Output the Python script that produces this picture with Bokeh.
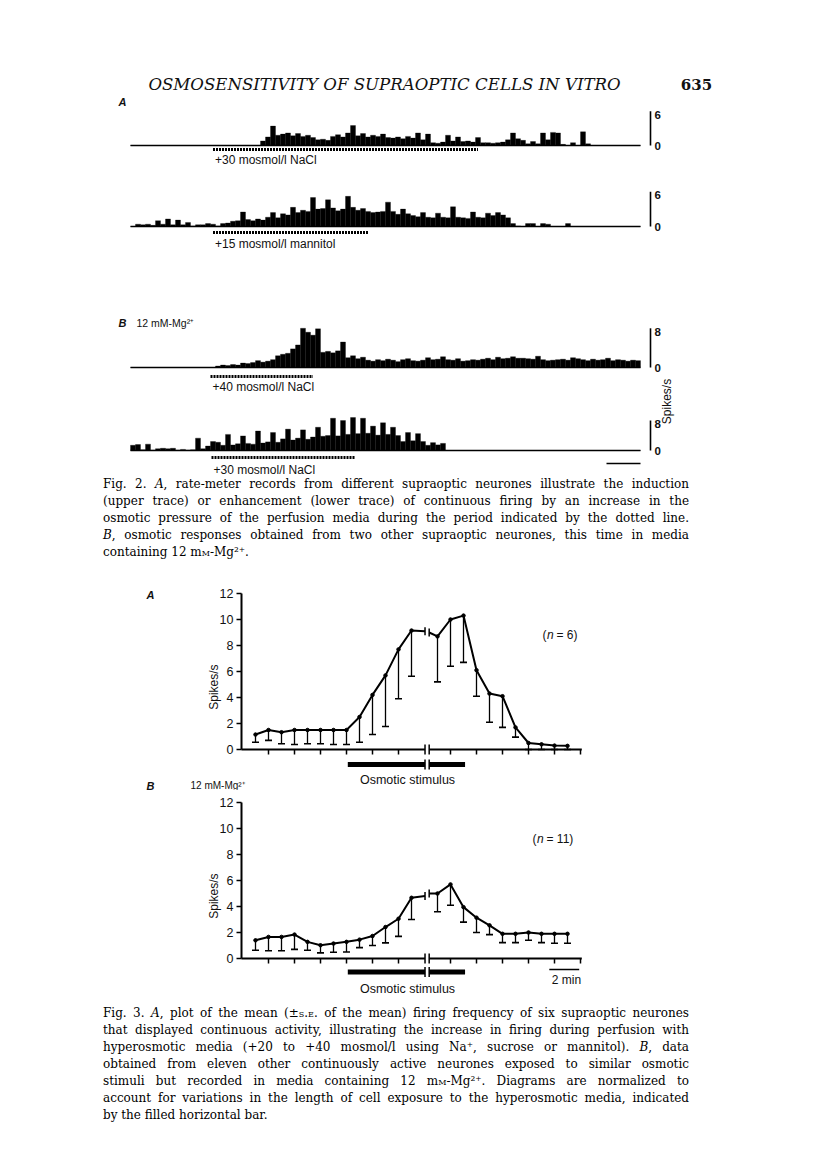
import math
import numpy as np
from bokeh.plotting import figure
from bokeh.models import Range1d, Div
from bokeh.layouts import column
from bokeh.embed import file_html
from bokeh.resources import INLINE
from bokeh.core.properties import value

SANS = "Liberation Sans"
SERIF = "DejaVu Serif"
INK = "#111111"
W = 816

# ------------------------------------------------------------------
# DATA
# Fig. 2 rate-meter records, spikes/s in consecutive time bins
# ------------------------------------------------------------------
trace_a_nacl30 = [0, 0, 0, 0, 0, 0, 0, 0, 0, 0, 0, 0, 0, 0, 0, 0, 0, 0, 0, 0,
                  0, 0, 0, 0, 0, 0, 0.8, 1.5, 3.4, 1.8, 2.0, 2.2, 1.7, 2.1, 1.6, 1.8,
                  1.4, 1.0, 1.1, 0.9, 1.6, 1.9, 1.5, 2.2, 3.5, 1.7, 2.1, 1.5, 1.8, 1.6,
                  2.0, 1.4, 1.3, 1.5, 1.2, 1.6, 1.3, 2.2, 1.0, 2.0, 0.5, 0.4, 0.6, 1.8,
                  0.8, 1.5, 0.7, 0.8, 0.6, 1.4, 0.5, 0.5, 0.4, 0.5, 0.6, 1.0, 2.2, 1.2,
                  0.9, 0.3, 0.7, 0.3, 2.2, 1.0, 2.3, 2.2, 0.2, 0, 0.5, 0, 2.4, 0.3,
                  0, 0, 0, 0, 0, 0, 0, 0, 0, 0]
trace_a_mannitol15 = [0, 0.4, 0.3, 0.4, 0.2, 1.0, 0.4, 1.3, 0.3, 1.1, 0.3,
                      0.7, 0.1, 0.3, 0.3, 0.5, 0.4, 0.1, 0.5, 0.6, 0.9,
                      1.0, 2.5, 1.2, 1.0, 1.3, 1.1, 1.6, 2.4, 1.5, 2.2,
                      2.0, 3.3, 2.4, 2.8, 2.6, 5.0, 3.0, 3.1, 4.6, 3.2,
                      2.7, 3.0, 5.2, 3.3, 2.8, 3.1, 2.6, 2.4, 2.5, 2.6,
                      4.2, 2.6, 2.1, 3.0, 2.2, 1.9, 1.7, 2.4, 1.6, 1.5,
                      2.3, 1.6, 1.5, 3.4, 1.6, 1.5, 1.4, 2.5, 1.6, 1.5,
                      2.3, 1.9, 2.4, 2.0, 1.5, 0.5, 0.1, 0, 0.5, 0.5,
                      0, 0.5, 0.4, 0, 0, 0, 0.5,
                      0, 0, 0, 0, 0, 0, 0, 0, 0, 0, 0, 0, 0, 0]
trace_b_nacl40 = [0, 0, 0, 0, 0, 0, 0, 0, 0, 0, 0, 0, 0, 0, 0, 0, 0,
                  0.3, 0.5, 0.4, 0.6, 0.5, 0.9,
                  0.8, 1.0, 1.4, 1.1, 1.3, 1.6,
                  2.4, 2.7, 2.9, 3.8, 4.6,
                  8.0, 7.2, 6.6, 7.9,
                  3.1, 3.3, 3.0, 3.4, 5.2,
                  2.0, 2.4, 1.8, 2.1, 1.5,
                  1.3, 1.6, 1.4, 1.7, 1.5, 1.2, 1.6, 1.8, 1.4, 1.3,
                  1.5, 2.0, 1.6, 1.7, 2.2, 1.6, 1.5, 1.8, 1.3, 1.4,
                  1.6, 1.5, 1.7, 1.9, 1.6, 2.1, 1.8, 1.9, 2.2, 1.9,
                  1.9, 1.8, 1.7, 2.3, 1.6, 1.4, 1.5, 1.6, 1.7, 1.5,
                  2.0, 1.8, 1.6, 1.4, 1.7, 1.5, 1.6, 1.9, 1.4, 1.6,
                  1.5, 1.3, 1.5, 1.4]
trace_b_nacl30 = [1.4, 1.6, 0.2, 1.7, 0.1, 0.5, 0.6, 0.5, 0.6, 0.1,
                  0.3, 0.1, 0.2, 3.3, 0.5, 1.2, 2.4, 2.2, 1.4, 4.3,
                  1.5, 1.8, 3.9, 1.9, 1.7, 5.2, 2.0, 2.3, 4.8, 2.2,
                  3.1, 5.7, 2.8, 3.3, 5.5, 3.0, 3.6, 6.2, 3.8, 4.0,
                  8.6, 3.9, 8.0, 4.3, 8.8, 4.5, 8.6, 4.6, 6.5, 4.1,
                  7.4, 4.3, 6.2, 4.0, 2.4, 4.8, 2.6, 4.5, 2.4, 1.4,
                  2.1, 1.5, 1.9,
                  0, 0, 0, 0, 0, 0, 0, 0, 0, 0, 0, 0, 0, 0, 0, 0, 0, 0, 0, 0,
                  0, 0, 0, 0, 0, 0, 0, 0, 0, 0, 0, 0, 0, 0, 0, 0, 0, 0, 0]
trace_scale_max = [6, 6, 8, 8]
trace_stimulus = ["+30 mosmol/l NaCl", "+15 mosmol/l mannitol",
                  "+40 mosmol/l NaCl", "+30 mosmol/l NaCl"]
trace_stim_bins = [(16.5, 69.5), (16.5, 47.5), (16.0, 36.5), (16.2, 45.0)]

# Fig. 3: mean firing frequency (spikes/s) and lower s.e. limit
t_pre = [0.5, 1.0, 1.5, 2.0, 2.5, 3.0, 3.5, 4.0, 4.5, 5.0, 5.5, 6.0, 6.5]
t_post = [7.5, 8.0, 8.5, 9.0, 9.5, 10.0, 10.5, 11.0, 11.5, 12.0, 12.5]
a_mean_pre = [1.15, 1.5, 1.33, 1.5, 1.5, 1.5, 1.5, 1.5, 2.5, 4.2, 5.7, 7.7, 9.15]
a_low_pre = [0.56, 0.7, 0.44, 0.38, 0.44, 0.44, 0.38, 0.38, 0.56, 1.15, 1.77, 3.9, 5.64]
a_mean_post = [8.7, 10.0, 10.3, 6.1, 4.3, 4.1, 1.7, 0.5, 0.4, 0.3, 0.28]
a_low_post = [5.2, 6.4, 6.7, 4.1, 2.1, 1.7, 0.95, 0.0, 0.0, 0.0, 0.0]
a_break = [9.1, 9.0]
b_mean_pre = [1.4, 1.66, 1.66, 1.84, 1.28, 1.02, 1.15, 1.28, 1.45, 1.73, 2.42, 3.06, 4.67]
b_low_pre = [0.64, 0.6, 0.6, 0.7, 0.64, 0.43, 0.48, 0.5, 0.84, 1.0, 1.2, 1.7, 3.0]
b_mean_post = [5.0, 5.7, 3.95, 3.14, 2.55, 1.9, 1.9, 2.0, 1.9, 1.9, 1.9]
b_low_post = [3.6, 4.1, 2.8, 2.0, 1.84, 1.22, 1.22, 1.4, 1.22, 1.17, 1.17]
b_break = [4.8, 5.0]
y_ticks = [0, 2, 4, 6, 8, 10, 12]
y_tick_labels = ["0", "2", "4", "6", "8", "10", "12"]
x_ticks = [1, 2, 3, 4, 5, 6, 8, 9, 10, 11, 12, 13]
x_axis_end = 13.05
stim_span = [4.05, 8.56]
break_at = [7.02, 7.18]
two_min_bar = [11.8, 12.95]


# ------------------------------------------------------------------
# helpers
# ------------------------------------------------------------------
def txt(p, x, y, s, size="11px", font=SANS, style="normal", align="left",
        baseline="middle", angle=0.0, color=INK, **kw):
    p.text(x=[x], y=[y], text=[s], text_font=value(font), text_font_size=size,
           text_font_style=style, text_align=align, text_baseline=baseline,
           angle=angle, text_color=color, **kw)


def bare_figure(height, x_range, y_range):
    p = figure(width=W, height=height, x_range=x_range, y_range=y_range,
               output_backend="svg", toolbar_location=None,
               x_axis_location=None, y_axis_location=None, min_border=0,
               outline_line_color=None, title=None)
    p.xgrid.visible = False
    p.ygrid.visible = False
    return p


# ------------------------------------------------------------------
# Fig. 2 (with page header)   page rows 0 .. 476
# ------------------------------------------------------------------
F2_TOP, F2_BOT = 0, 476


def bx(px):
    return (px - 130) / 5.0


f2 = bare_figure(F2_BOT - F2_TOP, Range1d(bx(0), bx(W)), Range1d(F2_BOT, F2_TOP))

txt(f2, bx(384), 84, "OSMOSENSITIVITY OF SUPRAOPTIC CELLS IN VITRO",
    size="16.6px", font=SERIF, style="italic", align="center")
txt(f2, bx(696), 84, "635", size="15px", font=SERIF, style="bold", align="center")
txt(f2, bx(118), 101, "A", size="11px", style="bold italic")
txt(f2, bx(118), 322, "B", size="11px", style="bold italic")
txt(f2, bx(136), 322, "12 mM-Mg²⁺", size="10.5px")

# trace geometry: baseline page-y, px per spikes/s, dotted-bar y, label y
geo = [(145, 5.7, 149, 159), (226, 5.8, 232, 243), (367, 4.9, 376, 386),
       (450, 3.75, 457, 469)]
traces = [trace_a_nacl30, trace_a_mannitol15, trace_b_nacl40, trace_b_nacl30]
ranges = {}
for i, (base, ppu, dot_y, lab_y) in enumerate(geo):
    ranges[f"t{i}"] = Range1d(-(F2_BOT - base) / ppu, (base - F2_TOP) / ppu)
f2.extra_y_ranges = ranges

for i, (vals, (base, ppu, dot_y, lab_y)) in enumerate(zip(traces, geo)):
    name = f"t{i}"
    xs = np.arange(len(vals)) + 0.5
    f2.vbar(x=xs, width=1.0, top=vals, bottom=0, y_range_name=name,
            fill_color="black", line_color="black", line_width=0.3)
    f2.segment(x0=[0], x1=[len(vals)], y0=[0], y1=[0], y_range_name=name,
               line_color="black", line_width=1.4)
    full = trace_scale_max[i]
    f2.segment(x0=[bx(650)], x1=[bx(650)], y0=[0], y1=[full], y_range_name=name,
               line_color="black", line_width=1.6)
    txt(f2, bx(654), full * 0.9, str(full), size="11.5px", style="bold",
        y_range_name=name)
    txt(f2, bx(654), 0, "0", size="11.5px", style="bold", y_range_name=name)
    d0, d1 = trace_stim_bins[i]
    f2.segment(x0=[d0], x1=[d1], y0=[dot_y], y1=[dot_y], line_color="black",
               line_width=3, line_dash="2 1")
    txt(f2, d0 + 0.4, lab_y, trace_stimulus[i], size="12px")

txt(f2, bx(666), 401, "Spikes/s", size="12px", align="center", angle=math.pi / 2)
f2.segment(x0=[bx(606)], x1=[bx(640)], y0=[463], y1=[463], line_color="black",
           line_width=1.5)


# ------------------------------------------------------------------
# captions
# ------------------------------------------------------------------
def caption(lines, height, pad_top):
    rows = []
    for i, ln in enumerate(lines):
        al = "left" if i == len(lines) - 1 else "justify"
        rows.append(f'<div style="text-align:{al};text-align-last:{al};">{ln}</div>')
    html = ('<div style="font-family:\'DejaVu Serif\',serif;font-size:12px;'
            'line-height:17px;color:#000;width:586px;margin-left:103px;'
            f'padding-top:{pad_top}px;">' + "".join(rows) + "</div>")
    return Div(text=html, width=W, height=height, margin=0)


MM = 'm<span style="font-variant:small-caps">m</span>'
cap2 = caption([
    "Fig. 2. <i>A</i>, rate-meter records from different supraoptic neurones illustrate the induction",
    "(upper trace) or enhancement (lower trace) of continuous firing by an increase in the",
    "osmotic pressure of the perfusion media during the period indicated by the dotted line.",
    "<i>B</i>, osmotic responses obtained from two other supraoptic neurones, this time in media",
    f"containing 12 {MM}-Mg²⁺.",
], 87, 0)

cap3 = caption([
    'Fig. 3. <i>A</i>, plot of the mean (±<span style="font-variant:small-caps">s.e.</span> of the mean) firing frequency of six supraoptic neurones',
    "that displayed continuous activity, illustrating the increase in firing during perfusion with",
    "hyperosmotic media (+20 to +40 mosmol/l using Na⁺, sucrose or mannitol). <i>B</i>, data",
    "obtained from eleven other continuously active neurones exposed to similar osmotic",
    f"stimuli but recorded in media containing 12 {MM}-Mg²⁺. Diagrams are normalized to",
    "account for variations in the length of cell exposure to the hyperosmotic media, indicated",
    "by the filled horizontal bar.",
], 130, 3)

# ------------------------------------------------------------------
# Fig. 3 panels (time in 1-min steps; spikes/s)
# ------------------------------------------------------------------
S3 = 13.0          # px per spikes/s
AXIS_PX = 241      # page x of the y axis


def bt(px):
    return (px - 242) / 26.0


def panel(top, height, zero_py, mean_pre, low_pre, brk, mean_post, low_post,
          n_text, n_left, n_py, stim_py, osm_py):
    bottom = top + height

    def by(py):
        return (zero_py - py) / S3

    p = bare_figure(height, Range1d(bt(0), bt(W)),
                    Range1d(-(bottom - zero_py) / S3, (zero_py - top) / S3))
    ax_x = bt(AXIS_PX)
    tick = 5 / 26.0

    # y axis
    p.segment(x0=[ax_x], x1=[ax_x], y0=[y_ticks[0]], y1=[y_ticks[-1]],
              line_color="black", line_width=2)
    p.segment(x0=ax_x - tick, x1=ax_x, y0=y_ticks, y1=y_ticks,
              line_color="black", line_width=1.5)
    p.text(x=[ax_x - tick - 3 / 26.0] * len(y_ticks), y=y_ticks, text=y_tick_labels,
           text_font=value(SANS), text_font_size="12.5px", text_align="right",
           text_baseline="middle", text_color=INK)
    txt(p, bt(213), 4.8, "Spikes/s", size="12px", align="center",
        angle=math.pi / 2)

    # broken x axis at y = 0
    p.segment(x0=[ax_x, break_at[1]], x1=[break_at[0], x_axis_end], y0=[0, 0],
              y1=[0, 0], line_color="black", line_width=2)
    p.segment(x0=x_ticks, x1=x_ticks, y0=0, y1=-5 / S3, line_color="black",
              line_width=1.5)
    p.segment(x0=break_at, x1=break_at, y0=-5 / S3, y1=5 / S3,
              line_color="black", line_width=1.5)

    # mean curve with break
    p.line(x=t_pre + [break_at[0]], y=mean_pre + [brk[0]], line_color="black",
           line_width=2)
    p.line(x=[break_at[1]] + t_post, y=[brk[1]] + mean_post, line_color="black",
           line_width=2)
    p.segment(x0=break_at, x1=break_at, y0=[b - 4 / S3 for b in brk],
              y1=[b + 4 / S3 for b in brk], line_color="black", line_width=1.5)

    # error bars (lower s.e.)
    t_all = np.array(t_pre + t_post)
    m_all = np.array(mean_pre + mean_post)
    l_all = np.array(low_pre + low_post)
    p.segment(x0=t_all, x1=t_all, y0=l_all, y1=m_all, line_color="black",
              line_width=1.3)
    cap = 3.5 / 26.0
    p.segment(x0=t_all - cap, x1=t_all + cap, y0=l_all, y1=l_all,
              line_color="black", line_width=1.6)
    p.scatter(x=t_all, y=m_all, size=3.5, color="black")

    # stimulus bar
    sy = by(stim_py)
    p.segment(x0=[stim_span[0], break_at[1]], x1=[break_at[0], stim_span[1]],
              y0=[sy, sy], y1=[sy, sy], line_color="black", line_width=5,
              line_cap="butt")
    p.segment(x0=break_at, x1=break_at, y0=sy - 5 / S3, y1=sy + 5 / S3,
              line_color="black", line_width=1.5)
    txt(p, bt(407), by(osm_py), "Osmotic stimulus", size="12.5px", align="center")

    # (n = ...)
    txt(p, bt(n_left), by(n_py), "(", size="12px")
    txt(p, bt(n_left + 4.5), by(n_py), "n", size="12px", style="italic")
    txt(p, bt(n_left + 14), by(n_py), n_text, size="12px")
    return p, by


fa, by_a = panel(563, 227, 749, a_mean_pre, a_low_pre, a_break, a_mean_post,
                 a_low_post, "= 6)", 542, 634, 764, 779)
fb, by_b = panel(790, 212, 958, b_mean_pre, b_low_pre, b_break, b_mean_post,
                 b_low_post, "= 11)", 532, 838, 971.5, 988)

txt(fa, bt(146), by_a(594), "A", size="11px", style="bold italic")
txt(fa, bt(146), by_a(785), "B", size="11px", style="bold italic")
txt(fa, bt(190), by_a(785), "12 mM-Mg²⁺", size="10px")

# 2-min calibration
tm_y = by_b(969)
fb.segment(x0=[two_min_bar[0]], x1=[two_min_bar[1]], y0=[tm_y], y1=[tm_y],
           line_color="black", line_width=1.5)
txt(fb, bt(566), by_b(979), "2 min", size="12px", align="center")

layout = column(f2, cap2, fa, fb, cap3, spacing=0)
open("out.html", "w").write(file_html(layout, INLINE))
